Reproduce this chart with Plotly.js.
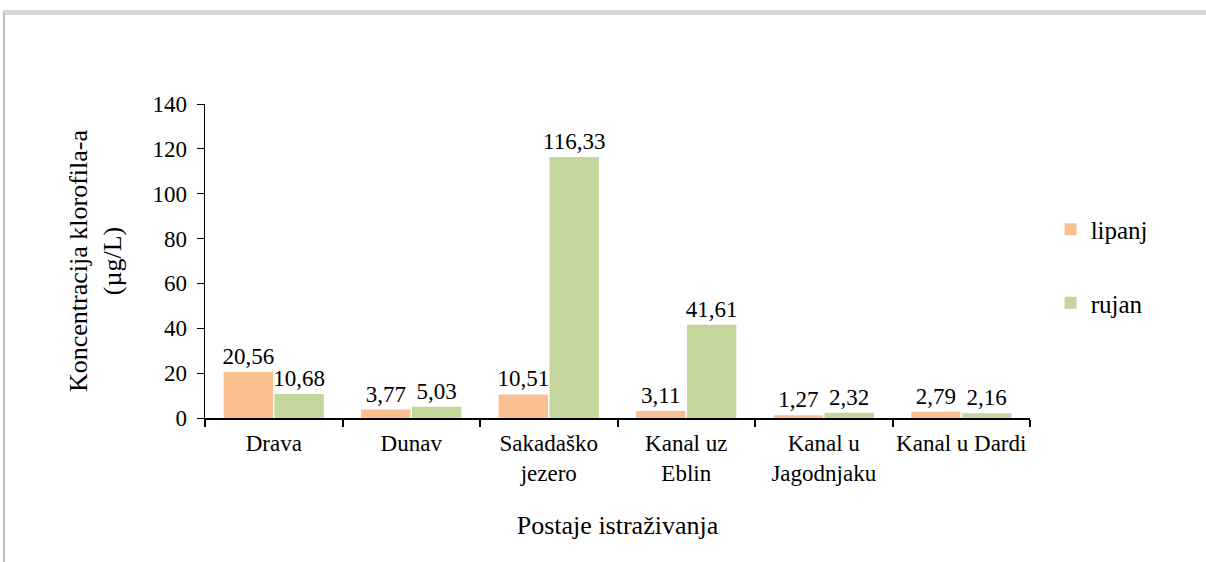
<!DOCTYPE html>
<html>
<head>
<meta charset="utf-8">
<script src="https://cdn.plot.ly/plotly-3.0.1.min.js"></script>
<style>
html,body{margin:0;padding:0;background:#fff;}
#wrap{position:relative;width:1206px;height:562px;}
#chart{width:1206px;height:562px;}
#frame{position:absolute;left:3px;top:10px;width:1210px;height:560px;border-left:2px solid #bfbfbf;border-top:5px solid #d9d9d9;box-sizing:border-box;pointer-events:none;}
</style>
</head>
<body>
<div id="wrap"><div id="chart"></div><div id="frame"></div></div>
<script>
const categories = ["Drava", "Dunav", "Sakadaško<br>jezero", "Kanal uz<br>Eblin", "Kanal u<br>Jagodnjaku", "Kanal u Dardi"];
const lipanj = [20.56, 3.77, 10.51, 3.11, 1.27, 2.79];
const rujan = [10.68, 5.03, 116.33, 41.61, 2.32, 2.16];
const yTicks = [0, 20, 40, 60, 80, 100, 120, 140];

const fmt = v => v.toFixed(2).replace('.', ',');
const font = {family: '"Liberation Serif", "Times New Roman", serif', color: '#000'};
const f = s => Object.assign({size: s}, font);

const traces = [
  {type: 'bar', name: 'lipanj', x: categories, y: lipanj, text: lipanj.map(fmt),
   textposition: 'outside', cliponaxis: false, constraintext: 'none',
   textfont: f(23), marker: {color: '#FAC090'}, legendgroup: 'a'},
  {type: 'bar', name: 'rujan', x: categories, y: rujan, text: rujan.map(fmt),
   textposition: 'outside', cliponaxis: false, constraintext: 'none',
   textfont: f(23), marker: {color: '#C3D69B'}, legendgroup: 'b'}
];

const layout = {
  width: 1206, height: 562,
  margin: {l: 205, r: 176, t: 104, b: 144},
  paper_bgcolor: '#fff', plot_bgcolor: '#fff',
  font: f(23),
  barmode: 'group', bargap: 0.26, bargroupgap: 0.03,
  showlegend: true,
  legend: {x: 1.025, y: 0.484, xanchor: 'left', yanchor: 'middle', tracegroupgap: 38,
           font: f(25), itemwidth: 30, bgcolor: 'rgba(0,0,0,0)'},
  xaxis: {type: 'category', showline: true, linecolor: '#000', linewidth: 2,
          ticks: 'outside', tickson: 'boundaries', ticklen: 7, tickwidth: 2, tickcolor: '#000',
          showgrid: false, tickfont: f(23), tickangle: 0, automargin: false, ticklabelstandoff: 3,
          title: {text: 'Postaje istraživanja', font: f(26), standoff: 31}},
  yaxis: {range: [0, 140], tickvals: yTicks, showline: true, linecolor: '#000', linewidth: 1.5,
          ticks: 'outside', ticklen: 7, tickcolor: '#000', showgrid: false, zeroline: false,
          tickfont: f(23), automargin: false, ticklabelstandoff: 5,
          title: {text: 'Koncentracija klorofila-a<br>(µg/L)', font: f(26), standoff: 23}}
};

Plotly.newPlot('chart', traces, layout, {displayModeBar: false, staticPlot: true});
</script>
</body>
</html>
